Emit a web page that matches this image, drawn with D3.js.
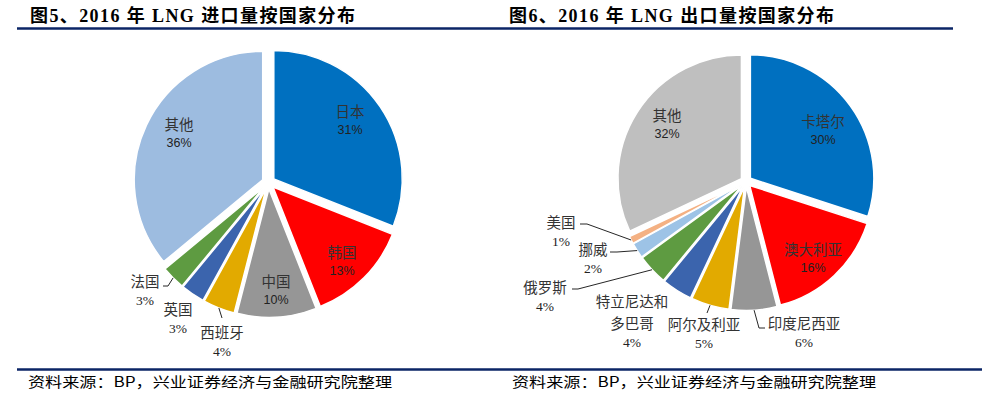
<!DOCTYPE html>
<html><head><meta charset="utf-8">
<script src="https://cdn.jsdelivr.net/npm/d3@7"></script>
<style>html,body{margin:0;padding:0;background:#fff;} svg{display:block;}</style>
</head><body><svg id="c" width="992" height="399"></svg>
<script>
// ---------- data ----------
const importCountries = ["日本","韩国","中国","西班牙","英国","法国","其他"];
const importShares = [31,13,10,4,3,3,36];
const exportCountries = ["卡塔尔","澳大利亚","印度尼西亚","阿尔及利亚","特立尼达和多巴哥","俄罗斯","挪威","美国","其他"];
const exportShares = [30,16,6,5,4,4,2,1,32];
const titles = ["图5、2016 年 LNG 进口量按国家分布","图6、2016 年 LNG 出口量按国家分布"];
const sourceNote = "资料来源：BP，兴业证券经济与金融研究院整理";

// ---------- styles / layout ----------
const importColors = ["#0070C0","#FF0000","#969696","#E2AA00","#3B64AD","#5E9B41","#9DBCE0"];
const exportColors = ["#0070C0","#FF0000","#969696","#E2AA00","#3B64AD","#5E9B41","#9DC3E6","#F4B183","#BFBFBF"];

// label layout relative to pie centre: name-line centre, optional leader (elbow, end)
const importLabelLayout = [
  {x:81.5, y:-72.5, inside:true},
  {x:73.5, y:68.5, inside:true},
  {x:7.5, y:97.5, inside:true},
  {x:-46.5, y:148.5, leader:[[-46.5,135.5],[-46.5,135.5]]},
  {x:-90.5, y:125.5},
  {x:-123.5, y:97.5, leader:[[-100.5,103.5],[-105.5,103.5]]},
  {x:-89.5, y:-59.5, inside:true}
];
const exportLabelLayout = [
  {x:77, y:-61.5, inside:true},
  {x:67, y:66.5, inside:true},
  {x:58, y:140.5, leader:[[13,146.5],[19,146.5]]},
  {x:-42, y:141.5, leader:[[-39,131.5],[-39,131.5]]},
  {x:-114, y:118.5, split:[5]},
  {x:-201, y:104.5, leader:[[-168,107.5],[-174,107.5]]},
  {x:-153, y:66.5, leader:[[-129,70.5],[-136,70.5]]},
  {x:-185, y:39.5, leader:[[-159,42.5],[-166,42.5]]},
  {x:-79, y:-67.5, inside:true}
];

const svg = d3.select("#c");
const navy = "#0b2566";
const cjkSerif = "'Liberation Serif','Noto Sans CJK SC',serif";
const labelFont = "'Noto Sans CJK SC','Liberation Serif',sans-serif";

// titles
const titleX = [30, 509];
titles.forEach((t,i)=>{
  svg.append("text").attr("x",titleX[i]).attr("y",22)
    .attr("font-family",cjkSerif).attr("font-weight","bold")
    .attr("font-size",18).attr("fill","#000")
    .attr("textLength",325).attr("lengthAdjust","spacing")
    .text(t);
});
svg.append("line").attr("x1",17).attr("x2",953).attr("y1",28.5).attr("y2",28.5)
  .attr("stroke",navy).attr("stroke-width",2.6);

// footer
svg.append("line").attr("x1",17).attr("x2",982).attr("y1",369.5).attr("y2",369.5)
  .attr("stroke",navy).attr("stroke-width",2.6);
[28, 512].forEach(x=>{
  svg.append("text").attr("x",x).attr("y",387)
    .attr("font-family",labelFont).attr("font-size",14).attr("fill","#000")
    .attr("textLength",364).attr("lengthAdjust","spacingAndGlyphs")
    .text(sourceNote);
});

function drawPie(cx, cy, r, explode, names, values, colors, layout){
  const g = svg.append("g").attr("transform",`translate(${cx},${cy})`);
  const pie = d3.pie().sort(null).value(d=>d)(values);
  const arc = d3.arc().innerRadius(0).outerRadius(r);
  const off = d => {
    const m = (d.startAngle + d.endAngle)/2;
    return [explode*Math.sin(m), -explode*Math.cos(m)];
  };
  g.selectAll("path.slice").data(pie).join("path")
    .attr("class","slice")
    .attr("d",arc)
    .attr("transform",d=>{const o=off(d);return `translate(${o[0]},${o[1]})`;})
    .attr("fill",(d,i)=>colors[i])
    .attr("stroke","#fff").attr("stroke-width",1.5).attr("stroke-linejoin","round");

  pie.forEach((d,i)=>{
    const L = layout[i];
    if (L.leader){
      const m = (d.startAngle + d.endAngle)/2;
      const o = off(d);
      const ex = r*Math.sin(m)+o[0], ey = -r*Math.cos(m)+o[1];
      g.append("path")
        .attr("d",`M${ex},${ey}L${L.leader[0][0]},${L.leader[0][1]}L${L.leader[1][0]},${L.leader[1][1]}`)
        .attr("fill","none").attr("stroke","#262626").attr("stroke-width",1);
    }
    let lines = [names[i]];
    if (L.split){ lines = [names[i].slice(0,L.split[0]), names[i].slice(L.split[0])]; }
    lines.forEach((ln,k)=>{
      g.append("text").attr("x",L.x).attr("y",L.y + k*22)
        .attr("text-anchor","middle").attr("dominant-baseline","central")
        .attr("font-family",labelFont).attr("font-size",14.5).attr("fill","#333")
        .text(ln);
    });
    g.append("text").attr("x",L.x).attr("y",L.y + (lines.length-1)*22 + 20)
      .attr("text-anchor","middle").attr("dominant-baseline","central")
      .attr("font-family", L.inside ? "'Liberation Sans',Arial,sans-serif" : "'Liberation Serif',serif")
      .attr("font-size", L.inside ? 12.5 : 13.5).attr("fill","#222")
      .text(values[i] + "%");
  });
}

drawPie(268.5, 182.5, 128.5, 6.4, importCountries, importShares, importColors, importLabelLayout);
drawPie(746, 181.5, 123.5, 5.4, exportCountries, exportShares, exportColors, exportLabelLayout);
</script>
</body></html>
